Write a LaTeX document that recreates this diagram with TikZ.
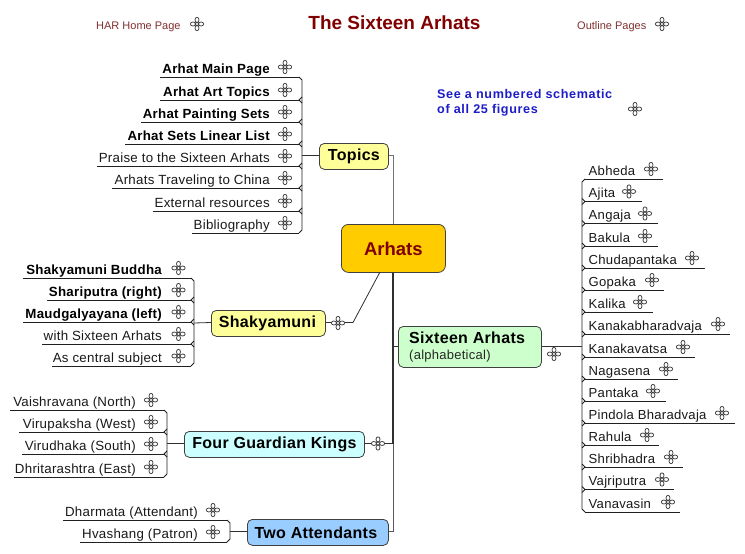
\documentclass[tikz,border=0pt]{standalone}
\usepackage{fontspec}
\setmainfont{Liberation Sans}
\newfontfamily\spaced[LetterSpace=2]{Liberation Sans}
\newfontfamily\spacedwide[LetterSpace=5]{Liberation Sans}
\definecolor{linec}{HTML}{202020}
\definecolor{trunkc}{HTML}{303030}
\definecolor{edgec}{HTML}{404040}
\definecolor{maroon}{HTML}{800000}
\definecolor{linkred}{HTML}{803030}
\definecolor{linkblue}{HTML}{1C1CC8}
\tikzset{
  x=1pt,y=-1pt,
  knot/.pic={
    \draw[draw=edgec,line width=0.75pt,fill=white]
      (0,-4.1) ellipse (2 and 2.6) (0,4.1) ellipse (2 and 2.6)
      (-4.1,0) ellipse (2.6 and 2) (4.1,0) ellipse (2.6 and 2)
      (0,0) circle (1.8);
  },
  leaf/.style={inner sep=0pt,font=\spaced\fontsize{13.3}{15}\selectfont,text=black!90},
  bleaf/.style={leaf,font=\spaced\bfseries\fontsize{13.3}{15}\selectfont,text=black},
  rleaf/.style={leaf,font=\spaced\fontsize{13.1}{15}\selectfont},
  mainbox/.style={draw=edgec,line width=0.8pt,rounded corners=5pt,inner sep=0pt,anchor=north west,align=center,font=\spaced\bfseries\fontsize{16}{18}\selectfont},
  rule/.style={draw=linec,line width=0.85pt},
  branch/.style={draw=trunkc,line width=0.8pt},
}
% left-hand row: name, text style, text, rule y, rule left x, text right x, icon x, bracket x
\newcommand{\leftrow}[8]{%
  \node[#2,anchor=base east] (#1) at (#6,#4-4) {#3};
  \pic at (#7,#4-10) {knot};
  \coordinate (#1-a) at (#5,#4);
  \coordinate (#1-b) at (#8-3,#4);
  \draw[rule] (#1-a) -- (#1-b);
}
\newcommand{\rightrow}[4]{%
  \node[rleaf,anchor=base west] (#1) at (588.5,#4-4) {#2};
  \pic at (#3,#4-10) {knot};
}
\begin{document}
\begin{tikzpicture}
\useasboundingbox (0,0) rectangle (745,554);
\fill[white] (0,0) rectangle (745,554);

% header
\node[inner sep=0pt,anchor=base west,text=linkred,font=\fontsize{11}{13}\selectfont] (home) at (96,29) {HAR Home Page};
\pic at (197,24) {knot};
\node[inner sep=0pt,anchor=base,text=maroon,font=\bfseries\fontsize{19}{21}\selectfont] (title) at (394.5,29) {The Sixteen Arhats};
\node[inner sep=0pt,anchor=base west,text=linkred,font=\fontsize{11}{13}\selectfont] (outline) at (577,29) {Outline Pages};
\pic at (662,24) {knot};
\node[inner sep=0pt,anchor=base west,text=linkblue,font=\spacedwide\bfseries\fontsize{12.6}{14}\selectfont] (see1) at (437,98) {See a numbered schematic};
\node[inner sep=0pt,anchor=base west,text=linkblue,font=\spacedwide\bfseries\fontsize{12.6}{14}\selectfont] (see2) at (437,113) {of all 25 figures};
\pic at (635,109) {knot};

% central and main boxes
\node[mainbox,rounded corners=7pt,fill={rgb,255:red,255;green,204;blue,0},minimum width=104pt,minimum height=48pt,text=maroon,font=\bfseries\fontsize{18.5}{21}\selectfont] (arhats) at (341,224) {Arhats};
\node[mainbox,fill={rgb,255:red,255;green,255;blue,153},minimum width=69pt,minimum height=26pt] (topics) at (319,143) {Topics};
\node[mainbox,fill={rgb,255:red,255;green,255;blue,153},minimum width=114pt,minimum height=26pt] (shak) at (211,310) {\kern-2pt Shakyamuni};
\node[mainbox,fill={rgb,255:red,204;green,255;blue,255},minimum width=180pt,minimum height=26pt] (four) at (184,431) {Four Guardian Kings};
\node[mainbox,fill={rgb,255:red,153;green,204;blue,255},minimum width=141pt,minimum height=26pt] (two) at (247,519) {\kern-4pt Two Attendants};
\node[mainbox,fill={rgb,255:red,204;green,255;blue,204},minimum width=143pt,minimum height=41pt] (six) at (398,326) {};
\node[inner sep=0pt,anchor=base west,font=\spaced\bfseries\fontsize{16}{18}\selectfont] (sixa) at (409,343.5) {Sixteen Arhats};
\node[inner sep=0pt,anchor=base west,font=\spaced\fontsize{13}{15}\selectfont,text=black!85] (sixb) at (409,359) {(alphabetical)};

% trunk
\coordinate (tj) at (393,155);
\coordinate (shj) at (353,322.5);
\coordinate (fourj) at (393,443.5);
\coordinate (twoj) at (393,531.5);
\coordinate (sixj) at (393,346);
\draw[branch,draw=gray!90!black] (topics.east|-tj) -- (tj) -- (tj|-arhats.north);
\draw[branch,line width=1.2pt] (tj|-arhats.south) -- (fourj);
\draw[branch,draw=gray!70!black] (fourj) -- (twoj) -- (two.east|-twoj);
\draw[branch] (sixj) -- (six.west|-sixj);
\draw[branch] (fourj) -- (four.east|-fourj);
\coordinate (aa) at (380,272);
\draw[branch] (shak.east|-shj) -- (shj) -- (aa);
\pic at (338,323) {knot};
\pic at (378,443.5) {knot};

% Topics
\foreach \n/\s/\t/\y/\l/\i in {
 a/bleaf/Arhat Main Page/77/160/285,
 b/bleaf/Arhat Art Topics/100/160/285,
 c/bleaf/Arhat Painting Sets/122/141/285,
 d/bleaf/Arhat Sets Linear List/144/125/285,
 e/leaf/Praise to the Sixteen Arhats/166/97/285,
 f/leaf/Arhats Traveling to China/188/112/285,
 g/leaf/External resources/211/153/285,
 h/leaf/Bibliography/233/192/285}{
  \leftrow{top\n}{\s}{\t}{\y}{\l}{270}{\i}{302}
}
\draw[rule] (topa-b) -- ++(3,3) -- (302,230) -- (toph-b);
\foreach \n/\y in {b/100,c/122,d/144,e/166,f/188,g/211}{
  \draw[rule] (302,\y-3) -- (top\n-b) -- (302,\y+3);
}
\draw[branch] (302,155) -- (topics.west|-tj);

% Shakyamuni
\foreach \n/\s/\t/\y/\l in {
 a/bleaf/Shakyamuni Buddha/278/23,
 b/bleaf/Shariputra (right)/300/47,
 c/bleaf/Maudgalyayana (left)/322/23,
 d/leaf/with Sixteen Arhats/344/42,
 e/leaf/As central subject/366/52}{
  \leftrow{sh\n}{\s}{\t}{\y}{\l}{162}{178.5}{194}
}
\draw[rule] (sha-b) -- ++(3,3) -- (194,363) -- (she-b);
\foreach \n/\y in {b/300,c/322,d/344}{
  \draw[rule] (194,\y-3) -- (sh\n-b) -- (194,\y+3);
}
\draw[branch] (194,323) -- (shak.west|-shj);

% Four Guardian Kings
\foreach \n/\t/\y/\l in {
 a/Vaishravana (North)/410/10,
 b/Virupaksha (West)/432/19,
 c/Virudhaka (South)/454/22,
 d/Dhritarashtra (East)/477/14}{
  \leftrow{fg\n}{leaf}{\t}{\y}{\l}{136}{151}{167}
}
\draw[rule] (fga-b) -- ++(3,3) -- (167,474) -- (fgd-b);
\foreach \n/\y in {b/432,c/454}{
  \draw[rule] (167,\y-3) -- (fg\n-b) -- (167,\y+3);
}
\draw[branch] (167,443.5) -- (four.west|-fourj);

% Two Attendants
\foreach \n/\t/\y/\l in {
 a/Dharmata (Attendant)/520/63,
 b/Hvashang (Patron)/542/80}{
  \leftrow{ta\n}{leaf}{\t}{\y}{\l}{198}{213}{230}
}
\draw[rule] (taa-b) -- ++(3,3) -- (230,539) -- (tab-b);
\draw[branch] (230,531.5) -- (two.west|-twoj);

% Sixteen Arhats list
\foreach \n/\t/\y/\ix/\e in {
 a/Abheda/179/651/663,
 b/Ajita/201.5/629/642,
 c/Angaja/223.5/645/658,
 d/Bakula/246/645/658,
 e/Chudapantaka/268/692/705,
 f/Gopaka/290/652/664,
 g/Kalika/312/640/653,
 h/Kanakabharadvaja/334/718/730,
 i/Kanakavatsa/357/683/695,
 j/Nagasena/379/666/678,
 k/Pantaka/401/653/666,
 l/Pindola Bharadvaja/423/722/735,
 m/Rahula/445/647/659,
 n/Shribhadra/467/671/683,
 o/Vajriputra/489.5/662/674,
 p/Vanavasin/512/668/680}{
  \rightrow{ar\n}{\t}{\ix}{\y}
  \coordinate (ar\n-a) at (585,\y);
  \coordinate (ar\n-b) at (\e,\y);
  \draw[rule] (ar\n-a) -- (ar\n-b);
}
\draw[rule] (ara-a) -- ++(-3,3) -- (582,509) -- (arp-a);
\foreach \n/\y in {b/201.5,c/223.5,d/246,e/268,f/290,g/312,h/334,i/357,j/379,k/401,l/423,m/445,n/467,o/489.5}{
  \draw[rule] (582,\y-3) -- (ar\n-a) -- (582,\y+3);
}
\draw[branch] (six.east|-sixj) -- (582,346);
\pic at (554,354) {knot};
\end{tikzpicture}
\end{document}
